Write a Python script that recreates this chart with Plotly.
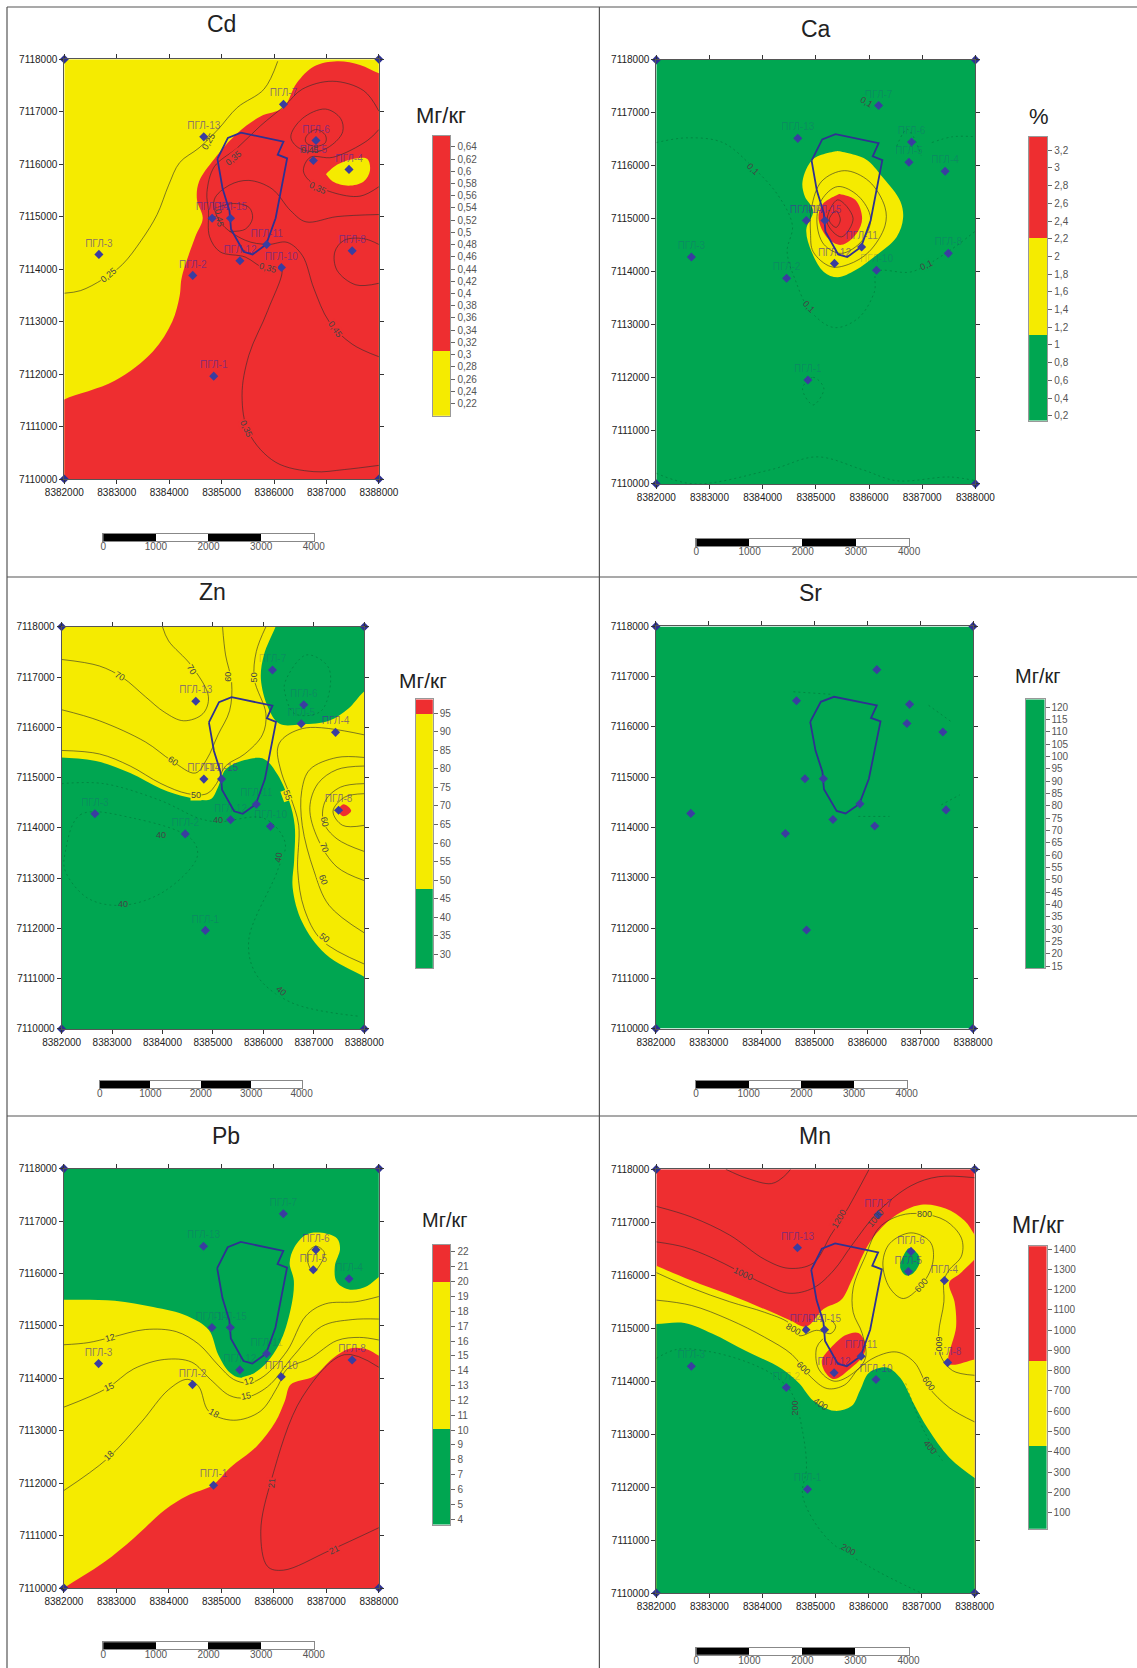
import plotly.graph_objects as go

# ---- wells and licence boundary (km from 8382000 / 7110000) ----
well_names = ["ПГЛ-7","ПГЛ-13","ПГЛ-6","ПГЛ-5","ПГЛ-4","ПГЛ-14","ПГЛ-15","ПГЛ-3","ПГЛ-11","ПГЛ-12","ПГЛ-10","ПГЛ-8","ПГЛ-2","ПГЛ-1"]
well_x = [4.18,2.66,4.80,4.75,5.43,2.82,3.17,0.66,3.86,3.35,4.14,5.49,2.45,2.85]
well_y = [7.14,6.52,6.45,6.07,5.90,4.97,4.97,4.28,4.47,4.16,4.03,4.35,3.88,1.96]
boundary = [(2.92,6.10),(3.12,6.50),(3.37,6.60),(4.18,6.43),(4.07,6.18),(4.25,6.11),(4.03,4.97),(3.85,4.47),(3.59,4.28),(3.42,4.33),(3.18,4.76),(3.15,5.11),(3.02,5.53),(2.92,6.10)]
axis_x_ticks = [8382000,8383000,8384000,8385000,8386000,8387000,8388000]
axis_y_ticks = [7110000,7111000,7112000,7113000,7114000,7115000,7116000,7117000,7118000]
scale_ticks = [0,1000,2000,3000,4000]

RED, YEL, GRN = "#ee2e30", "#f5eb00", "#00a651"

# ---- Cd ----
cd_red = [(-1,1.0),(-0.3,1.35),(0.0,1.515),(0.96,1.87),(1.69,2.43),(2.06,3.0),(2.20,3.49),(2.24,3.84),(2.50,4.62),(2.64,4.97),(2.53,5.32),(2.57,5.67),(2.86,6.10),(3.30,6.59),(3.74,6.91),(4.18,7.08),(4.43,7.54),(4.76,7.86),(5.20,7.96),(5.64,7.89),(6.0,7.73),(6.44,7.58),(7,7),(7,-1),(-1,-1)]
cd_yel = [(4.99,5.81),(5.20,5.99),(5.56,6.11),(5.78,6.10),(5.83,5.88),(5.71,5.67),(5.42,5.59),(5.12,5.67),(4.99,5.81)]
cd_iso = [
 [(0,3.54),(.31,3.59),(.74,3.81),(1.11,4.09),(1.47,4.55),(1.77,5.04),(1.99,5.60),(2.20,6.03),(2.57,6.31),(2.93,6.66),(3.30,7.08),(3.81,7.43),(4.07,7.96)],
 [(6,7.01),(5.71,7.40),(5.12,7.58),(4.54,7.43),(4.21,7.12),(3.74,6.73),(3.30,6.31),(2.86,5.95),(2.72,5.46),(2.75,5.11),(2.77,4.62),(2.97,4.33),(3.45,4.23),(3.81,4.02),(4.14,4.02),(3.88,3.21),(3.52,2.36),(3.39,1.59),(3.52,.88),(4.03,.32),(4.76,.14),(5.34,.18),(6,.26)],
 [(6,2.33),(5.49,2.57),(5.05,3.0),(4.76,3.63),(4.54,4.26),(4.25,4.51),(3.88,4.47),(3.45,4.55),(2.97,4.90),(2.86,5.32),(3.15,5.60),(3.52,5.69),(3.96,5.53),(4.32,5.11),(4.61,4.90),(5.20,5.0),(6,5.04)],
 [(2.93,5.18),(3.23,5.25),(3.52,5.18),(3.59,4.97),(3.45,4.76),(3.15,4.72)],
 [(4.32,6.52),(4.54,6.87),(4.98,7.05),(5.27,6.87),(5.31,6.62),(5.12,6.38),(4.83,6.24),(4.47,6.31),(4.32,6.52)],
 [(4.61,6.52),(4.80,6.66),(4.98,6.55),(4.98,6.41),(4.80,6.34),(4.61,6.41),(4.61,6.52)],
 [(6,6.66),(5.78,6.45),(5.12,6.13),(4.69,6.13),(4.56,5.88),(4.69,5.67),(5.12,5.46),(5.64,5.39),(6,5.57)],
 [(6,4.47),(5.71,4.58),(5.34,4.55),(5.16,4.33),(5.20,3.98),(5.56,3.70),(6,3.73)],
]
cd_labels = [("0,25",.85,3.88,-40),("0,25",2.75,6.45,-60),("0,35",3.23,6.11,-40),("0,35",4.83,5.55,25),("0,45",2.95,4.97,80),("0,35",3.88,4.03,15),("0,35",3.47,.95,65),("0,45",5.16,2.85,55),("0,45",4.69,6.27,0)]
cd_label_bg = {"0,25":YEL,"0,35":RED,"0,45":RED}
cd_cb_bounds = [.2,.306,.658]
cd_cb_colors = [YEL,RED]
cd_cb_ticks = [.22,.24,.26,.28,.3,.32,.34,.36,.38,.4,.42,.44,.46,.48,.5,.52,.54,.56,.58,.6,.62,.64]

# ---- Ca ----
ca_yel = [(3.41,6.28),(3.93,6.13),(4.26,5.78),(4.59,5.33),(4.64,5.01),(4.52,4.66),(4.13,4.31),(3.74,4.03),(3.41,3.90),(3.15,4.0),(2.92,4.38),(2.82,4.80),(2.95,5.15),(2.79,5.43),(2.75,5.71),(2.95,6.13),(3.41,6.28)]
ca_red = [(3.44,5.47),(3.74,5.36),(3.87,5.01),(3.77,4.73),(3.48,4.51),(3.22,4.64),(3.05,5.01),(3.13,5.28),(3.44,5.47)]
ca_iso = [
 [(3.54,5.91),(4.0,5.71),(4.30,5.22),(4.30,4.87),(4.0,4.38),(3.61,4.14),(3.28,4.10),(2.95,4.38),(2.90,4.73),(2.92,5.22),(3.11,5.71),(3.54,5.91)],
 [(3.41,5.61),(3.80,5.43),(4.03,5.01),(3.87,4.59),(3.48,4.35),(3.15,4.52),(3.02,4.94),(3.11,5.36),(3.41,5.61)],
 [(3.41,5.36),(3.70,5.01),(3.48,4.66),(3.21,4.94),(3.41,5.36)],
 [(3.38,5.15),(3.46,4.98),(3.38,4.84),(3.25,4.98),(3.38,5.15)],
]
ca_faint = [
 [(0,6.44),(.59,6.53),(1.25,6.44),(1.80,5.99),(2.30,5.43),(2.56,4.87),(2.46,4.38),(2.62,3.83),(2.89,3.27),(3.34,2.95),(3.80,3.13),(4.10,3.62),(4.15,4.0),(4.79,4.0),(5.38,4.31),(6,4.77)],
 [(2.75,1.80),(2.95,2.01),(3.15,1.80),(2.95,1.49),(2.75,1.80)],
 [(0,.2),(.72,0),(2.16,.27),(3.02,.51),(3.87,.27),(4.52,.06),(5.51,.13),(6,.06)],
 [(4.52,6.37),(4.72,6.69),(4.98,6.2)],
 [(5.18,6.44),(5.57,6.55),(6,6.55)],
]
ca_labels = [("0,1",1.82,5.95,45),("0,1",2.87,3.33,45),("0,1",5.08,4.13,-25),("0,1",3.95,7.2,30)]
ca_label_bg = {"0,1":GRN}
ca_cb_bounds = [.146,1.114,2.21,3.35]
ca_cb_colors = [GRN,YEL,RED]
ca_cb_ticks = [.2,.4,.6,.8,1,1.2,1.4,1.6,1.8,2,2.2,2.4,2.6,2.8,3,3.2]

# ---- Zn ----
zn_grn1 = [(-1,5.5),(-.3,5.42),(0,5.40),(.68,5.33),(1.36,5.09),(1.97,4.78),(2.50,4.61),(2.95,4.57),(3.10,4.81),(3.25,5.16),(3.63,5.35),(4.01,5.37),(4.28,5.06),(4.51,4.54),(4.62,4.05),(4.61,3.36),(4.58,2.81),(4.77,2.12),(5.23,1.49),(6,1.04),(6.5,.8),(7,-1),(-1,-1)]
zn_grn2 = [(4.36,8.34),(4.24,8),(4.01,7.44),(3.95,6.96),(4.09,6.40),(4.32,6.07),(4.77,6.06),(5.30,6.13),(5.68,6.37),(6,6.72),(7,7.5),(7,9),(4.7,9)]
zn_red = [(5.46,4.34),(5.59,4.47),(5.74,4.34),(5.59,4.23),(5.46,4.34)]
zn_iso = [
 [(0,7.35),(.75,7.22),(1.21,6.99),(1.66,6.61),(2.04,6.30),(2.42,6.13),(2.80,6.27),(2.91,6.61),(2.57,7.23),(2.12,7.72),(2.0,8)],
 [(0,6.35),(.75,6.13),(1.66,5.71),(2.19,5.33),(2.65,5.09),(2.88,5.37),(3.10,5.85),(3.33,6.33),(3.37,6.89),(3.25,7.44),(3.19,8)],
 [(0,5.54),(.75,5.47),(1.36,5.23),(1.97,4.88),(2.50,4.68),(2.88,4.68),(3.07,4.88),(3.25,5.23),(3.63,5.47),(3.98,5.85),(4.05,6.27),(3.82,6.96),(3.86,7.51),(4.05,8)],
 [(6,5.85),(4.85,5.99),(4.39,5.78),(4.28,5.57),(4.36,5.09),(4.54,4.61),(4.70,4.05),(4.68,3.15),(4.81,2.39),(5.15,1.77),(6,1.29)],
 [(6,5.40),(5.46,5.40),(4.92,5.16),(4.76,4.74),(4.77,4.05),(5.0,3.15),(5.30,2.46),(6,1.91)],
 [(6,5.23),(5.46,5.16),(5.08,4.88),(4.92,4.40),(5.08,3.78),(5.46,3.22),(6,2.95)],
 [(6,4.88),(5.53,4.81),(5.23,4.54),(5.19,4.12),(5.46,3.78),(6,3.53)],
 [(6,4.68),(5.61,4.61),(5.38,4.33),(5.57,4.05),(6,4.05)],
]
zn_faint = [
 [(0,4.88),(.83,4.88),(1.97,4.54),(2.72,4.19),(3.1,4.12),(4.01,4.19),(4.43,3.71),(4.28,3.15),(3.71,1.77),(3.86,1.08),(4.54,.53),(5.91,.25)],
 [(.07,3.5),(.37,4.26),(1.43,4.19),(2.57,3.78),(2.69,3.43),(2.04,2.74),(1.21,2.46),(.52,2.6),(.07,3.15),(.07,3.5)],
 [(4.43,6.9),(4.85,7.44),(5.30,7.17),(5.15,6.33),(4.62,6.27),(4.43,6.67),(4.43,6.9)],
]
zn_labels = [("70",1.15,7.03,30),("70",2.59,7.15,60),("60",3.29,7.0,-90),("50",3.82,7.0,-90),("60",2.21,5.33,35),("50",2.67,4.65,0),("55",4.48,4.66,70),("60",5.21,4.11,80),("70",5.21,3.60,70),("60",5.19,2.96,70),("50",5.21,1.8,40),("40",3.1,4.15,0),("40",1.97,3.85,0),("40",1.21,2.48,0),("40",4.3,3.4,-80),("40",4.35,.75,40)]
zn_label_bg = {"70":YEL,"60":YEL,"55":YEL,"50":YEL,"40":GRN}
zn_cb_bounds = [26.2,47.4,94.8,98.8]
zn_cb_colors = [GRN,YEL,RED]
zn_cb_ticks = [30,35,40,45,50,55,60,65,70,75,80,85,90,95]

# ---- Sr ----
sr_faint = [[(3.83,4.22),(4.42,4.22)],[(5.16,6.43),(5.62,6.08)],[(3.3,6.65),(2.6,6.7)],[(5.4,4.45),(5.75,4.65)]]
sr_cb_bounds = [14.15,123.1]
sr_cb_colors = [GRN]
sr_cb_ticks = [15,20,25,30,35,40,45,50,55,60,65,70,75,80,85,90,95,100,105,110,115,120]

# ---- Pb ----
pb_yel = [(-1,5.5),(-.4,5.5),(0,5.50),(.97,5.48),(1.70,5.36),(2.35,5.19),(2.76,4.92),(2.94,4.45),(3.16,4.11),(3.37,4.01),(3.74,4.18),(4.10,4.65),(4.32,5.32),(4.38,5.86),(4.30,6.20),(4.39,6.50),(4.61,6.74),(4.87,6.78),(5.20,6.67),(5.26,6.47),(5.16,6.13),(5.20,5.83),(5.45,5.69),(5.78,5.76),(6,5.93),(6.44,6.2),(7,5),(7,-1),(-1,-1)]
pb_red = [(-.6,-.4),(0,0),(.75,.48),(1.33,.95),(1.92,1.49),(2.35,1.76),(2.83,1.96),(3.16,2.29),(3.67,2.70),(4.03,3.17),(4.21,3.57),(4.32,3.88),(4.76,4.04),(5.12,4.38),(5.45,4.57),(5.78,4.55),(6,4.43),(6.36,4.25),(7,3),(7,-1),(0,-1)]
pb_iso = [
 [(0,4.64),(.46,4.68),(.90,4.78),(1.55,4.93),(2.14,4.89),(2.57,4.65),(2.94,4.25),(3.23,3.98),(3.52,3.91),(3.81,4.04),(4.25,4.52),(4.61,5.19),(4.98,5.42),(5.56,5.46),(6,5.56)],
 [(0,3.45),(.82,3.81),(1.33,4.18),(1.92,4.36),(2.43,4.31),(2.79,3.98),(3.16,3.67),(3.45,3.63),(3.88,3.84),(4.39,4.45),(4.91,4.99),(5.49,5.12),(6,5.13)],
 [(0,1.86),(.82,2.46),(1.48,3.17),(1.99,3.78),(2.35,3.98),(2.57,3.84),(2.76,3.37),(3.23,3.20),(3.74,3.37),(4.07,3.84),(4.25,4.18),(4.69,4.38),(5.20,4.72),(5.63,4.78),(6,4.73)],
 [(6,1.15),(5.05,.71),(4.18,.34),(3.88,.41),(3.75,1.08),(3.96,2.09),(4.54,3.64),(5.34,4.45),(6,4.21)],
 [(4.65,6.40),(4.80,6.52),(4.96,6.40),(4.90,6.20),(4.75,6.03),(4.65,6.20),(4.65,6.40)],
]
pb_labels = [("12",.87,4.77,-15),("15",.86,3.83,-25),("18",.85,2.52,-45),("18",2.85,3.34,30),("12",3.53,3.94,-15),("15",3.47,3.67,-10),("21",3.96,2.0,-85),("21",5.14,.73,-25)]
pb_label_bg = {"12":YEL,"15":YEL,"18":YEL,"21":RED}
pb_cb_bounds = [3.64,10.08,19.99,22.48]
pb_cb_colors = [GRN,YEL,RED]
pb_cb_ticks = [4,5,6,7,8,9,10,11,12,13,14,15,16,17,18,19,20,21,22]

# ---- Mn ----
mn_yel = [(-1,6.4),(-.4,6.35),(0,6.18),(.66,5.90),(1.38,5.63),(2.04,5.36),(2.50,5.16),(2.83,5.03),(3.15,5.36),(3.48,5.53),(3.68,5.90),(3.88,6.36),(4.07,6.69),(4.47,7.10),(4.99,7.33),(5.45,7.26),(5.81,7.03),(6,6.76),(6.14,6.50),(6,6.3),(5.72,6.03),(5.52,5.86),(5.62,5.5),(5.65,5.03),(5.52,4.33),(6,4.41),(6.3,4.46),(7,4.4),(7,-1),(-1,-1)]
mn_red = [(3.29,4.63),(3.55,4.86),(3.81,4.91),(3.94,4.70),(3.91,4.5),(3.68,4.26),(3.35,4.04),(3.19,4.16),(3.12,4.40),(3.29,4.63)]
mn_grn = [(-1,5.05),(-.4,5.07),(0,5.08),(.53,5.10),(1.05,4.90),(1.71,4.56),(2.37,4.23),(2.69,3.96),(2.96,3.63),(3.35,3.44),(3.68,3.53),(3.84,3.83),(4.01,4.16),(4.34,4.26),(4.60,4.06),(4.86,3.56),(5.12,3.10),(5.52,2.56),(6,2.17),(6.37,1.9),(7,1),(7,-1),(-1,-1)]
mn_islet = [(4.60,6.23),(4.76,6.51),(4.93,6.40),(4.96,6.23),(4.83,6.03),(4.70,6.0),(4.60,6.13),(4.60,6.23)]
mn_iso = [
 [(0,6.63),(.53,6.53),(1.05,6.33),(1.51,6.10),(2.04,5.83),(2.50,5.66),(2.96,5.76),(3.35,6.10),(3.68,6.56),(4.2,7.22),(4.80,7.69),(5.32,7.86),(6,7.84)],
 [(0,7.30),(.66,7.10),(1.38,6.76),(2.04,6.30),(2.50,6.13),(2.96,6.23),(3.29,6.76),(3.55,7.16),(4.01,8)],
 [(1.31,8),(1.71,7.83),(2.17,7.73),(2.40,7.86),(2.53,8)],
 [(0,6.05),(.66,5.76),(1.38,5.50),(2.04,5.30),(2.50,5.10),(2.69,4.86),(3.02,4.96),(3.29,4.90),(3.38,5.03),(3.29,5.16)],
 [(0,5.53),(.66,5.43),(1.38,5.16),(2.04,4.83),(2.56,4.50),(2.89,4.10),(3.22,3.86),(3.55,3.93),(3.81,4.23),(4.14,4.46),(4.53,4.55),(4.86,4.36),(5.12,3.9),(5.52,3.5),(6,3.23)],
 [(3.14,4.8),(3.02,4.63),(3.06,4.23),(3.35,4.0),(3.68,4.13),(3.94,4.43),(3.88,4.90),(3.71,5.30),(3.71,5.76),(3.94,6.36),(4.2,6.9),(4.60,7.13),(4.99,7.16),(5.45,7.03),(5.75,6.70),(5.75,6.36),(5.52,6.10),(5.42,5.90),(5.42,5.5),(5.32,4.90),(5.35,4.50),(5.58,4.2),(6,4.11)],
 [(4.27,6.23),(4.40,6.6),(4.80,6.80),(5.16,6.63),(5.22,6.30),(5.06,5.90),(4.66,5.56),(4.40,5.76),(4.27,6.23)],
]
mn_faint = [
 [(0,4.43),(.39,4.6),(.99,4.56),(1.71,4.36),(2.23,4.10),(2.56,3.76),(2.76,3.03),(2.83,2.36),(2.76,1.83),(3.22,1.03),(4.01,.5),(4.99,0)],
 [(4.7,3.96),(5.06,3.03),(5.39,2.5)],
]
mn_labels = [("1200",3.44,7.06,-60),("1000",4.13,7.09,-50),("1000",1.64,6.02,25),("800",5.05,7.16,0),("600",5.0,5.81,-50),("600",5.32,4.70,90),("800",2.58,4.99,30),("600",2.77,4.25,45),("600",5.12,3.96,55),("400",3.09,3.56,35),("200",2.61,3.5,-90),("200",3.63,.82,30),("400",5.16,2.76,50)]
mn_label_bg = {"1200":RED,"1000":RED,"800":YEL,"600":YEL,"400":GRN,"200":GRN}
mn_cb_bounds = [20,429,846,1414]
mn_cb_colors = [GRN,YEL,RED]
mn_cb_ticks = [100,200,300,400,500,600,700,800,900,1000,1100,1200,1300,1400]

# labels that sit over a well or a colour edge, so they get no backing colour
labels_no_backing = [(4.69,6.27),(2.95,4.97),(4.13,7.09),(2.75,6.45),(3.09,3.56),(5.16,2.76)]

# ---- assembly ----
W, H = 1137, 1668
X0, Y0 = 8382000, 7110000
BLUE = "#2e3192"
FONT = "Liberation Sans"

panels = [
 dict(title="Cd", unit="Мг/кг", bg=YEL, regions=[(RED,cd_red),(YEL,cd_yel)], iso=cd_iso, faint=[], labels=cd_labels, lbg=cd_label_bg,
      cb=(cd_cb_bounds,cd_cb_colors,cd_cb_ticks), box=(64.3,378.9,59.2,479), cbbox=(432.5,450.4,135.8,415.8),
      sc=(103.3,313.8,533.5,540.9), tpos=(221,24,23), upos=(441,115.4,22), faintwells=[]),
 dict(title="Ca", unit="%", bg=GRN, regions=[(YEL,ca_yel),(RED,ca_red)], iso=ca_iso, faint=ca_faint, labels=ca_labels, lbg=ca_label_bg,
      cb=(ca_cb_bounds,ca_cb_colors,ca_cb_ticks), box=(656.3,975.4,59.9,483.9), cbbox=(1029.1,1047.3,136.9,420.6),
      sc=(696.4,909.1,539,546.4), tpos=(816,28.5,23), upos=(1039,116,22),
      faintwells=["ПГЛ-7","ПГЛ-13","ПГЛ-6","ПГЛ-5","ПГЛ-4","ПГЛ-3","ПГЛ-10","ПГЛ-8","ПГЛ-2","ПГЛ-1"]),
 dict(title="Zn", unit="Мг/кг", bg=YEL, regions=[(GRN,zn_grn1),(GRN,zn_grn2),(RED,zn_red)], iso=zn_iso, faint=zn_faint, labels=zn_labels, lbg=zn_label_bg,
      cb=(zn_cb_bounds,zn_cb_colors,zn_cb_ticks), box=(61.6,364.3,626.8,1028.9), cbbox=(415.6,432.8,699.4,968.1),
      sc=(99.9,301.6,1081,1088), tpos=(212,591.7,23), upos=(423,680,21),
      faintwells=["ПГЛ-7","ПГЛ-6","ПГЛ-5","ПГЛ-3","ПГЛ-2","ПГЛ-1","ПГЛ-12","ПГЛ-11","ПГЛ-10"]),
 dict(title="Sr", unit="Мг/кг", bg=GRN, regions=[], iso=[], faint=sr_faint, labels=[], lbg={},
      cb=(sr_cb_bounds,sr_cb_colors,sr_cb_ticks), box=(655.9,973,626.4,1028.6), cbbox=(1026,1044.5,699.4,968.1),
      sc=(696,906.7,1081,1088), tpos=(810.4,593,23), upos=(1037.5,675.8,20), faintwells=well_names),
 dict(title="Pb", unit="Мг/кг", bg=GRN, regions=[(YEL,pb_yel),(RED,pb_red)], iso=pb_iso, faint=[], labels=pb_labels, lbg=pb_label_bg,
      cb=(pb_cb_bounds,pb_cb_colors,pb_cb_ticks), box=(63.9,378.9,1168.6,1588), cbbox=(432.5,450.4,1244.8,1524.5),
      sc=(103.3,313.8,1642.3,1649.4), tpos=(225.8,1136,23), upos=(445,1219.8,20),
      faintwells=["ПГЛ-7","ПГЛ-13","ПГЛ-14","ПГЛ-15","ПГЛ-11","ПГЛ-12","ПГЛ-4"]),
 dict(title="Mn", unit="Мг/кг", bg=RED, regions=[(YEL,mn_yel),(RED,mn_red),(GRN,mn_grn),(GRN,mn_islet)], iso=mn_iso, faint=mn_faint, labels=mn_labels, lbg=mn_label_bg,
      cb=(mn_cb_bounds,mn_cb_colors,mn_cb_ticks), box=(656.3,974.7,1169.3,1593), cbbox=(1028.8,1046.6,1246.2,1528.8),
      sc=(696.4,908.5,1647.6,1654.7), tpos=(815,1136,23), upos=(1037.5,1225,23),
      faintwells=["ПГЛ-3","ПГЛ-2","ПГЛ-1"]),
]

fig = go.Figure()
layout = dict(width=W, height=H, autosize=False, margin=dict(l=0,r=0,t=0,b=0,autoexpand=False), paper_bgcolor="white",
              plot_bgcolor="white", showlegend=False, font=dict(family=FONT), bargap=0, barmode="overlay",
              annotations=[], shapes=[])

def xd(x1,x2): return [x1/W, x2/W]
def yd(y1,y2): return [1-y2/H, 1-y1/H]
def fmt(v):
    return (f"{v:g}").replace(".",",")
def kx(pts): return [X0+1000*p[0] for p in pts]
def ky(pts): return [Y0+1000*p[1] for p in pts]
def ann(text,x,y,size,color="#222"):
    layout["annotations"].append(dict(text=text,x=x/W,y=1-y/H,xref="paper",yref="paper",showarrow=False,
        xanchor="center",yanchor="middle",font=dict(size=size,color=color,family=FONT)))

n = 2
for p in panels:
    xa, ya = f"x{n}", f"y{n}"
    x1,x2,y1,y2 = p["box"]
    layout[f"xaxis{n}"] = dict(domain=xd(x1,x2), anchor=ya, range=[X0,X0+6000], tickvals=axis_x_ticks, tickformat="d",
        ticks="outside", ticklen=4, tickcolor="#333", showgrid=False, zeroline=False, showline=True, linecolor="#555",
        linewidth=1, mirror="ticks", tickfont=dict(size=10,color="#222",family=FONT))
    layout[f"yaxis{n}"] = dict(domain=yd(y1,y2), anchor=xa, range=[Y0,Y0+8000], tickvals=axis_y_ticks, tickformat="d",
        ticks="outside", ticklen=4, tickcolor="#333", showgrid=False, zeroline=False, showline=True, linecolor="#555",
        linewidth=1, mirror="ticks", tickfont=dict(size=10,color="#222",family=FONT))
    # background
    fig.add_trace(go.Scatter(x=[X0,X0+6000,X0+6000,X0,X0], y=[Y0,Y0,Y0+8000,Y0+8000,Y0], mode="lines", fill="toself",
        fillcolor=p["bg"], line=dict(width=0), hoverinfo="skip", xaxis=xa, yaxis=ya))
    for color, pts in p["regions"]:
        fig.add_trace(go.Scatter(x=kx(pts)+[kx(pts)[0]], y=ky(pts)+[ky(pts)[0]], mode="lines", fill="toself", fillcolor=color,
            line=dict(width=0,shape="spline",smoothing=1), hoverinfo="skip", xaxis=xa, yaxis=ya))
    for pts in p["iso"]:
        fig.add_trace(go.Scatter(x=kx(pts), y=ky(pts), mode="lines", hoverinfo="skip", xaxis=xa, yaxis=ya,
            line=dict(width=0.8,color="rgba(45,45,45,0.75)",shape="spline",smoothing=1)))
    for pts in p["faint"]:
        fig.add_trace(go.Scatter(x=kx(pts), y=ky(pts), mode="lines", hoverinfo="skip", xaxis=xa, yaxis=ya,
            line=dict(width=0.7,color="rgba(0,70,35,0.45)",dash="2px,3px",shape="spline",smoothing=1)))
    fig.add_trace(go.Scatter(x=kx(boundary), y=ky(boundary), mode="lines", hoverinfo="skip", xaxis=xa, yaxis=ya,
        line=dict(width=1.8,color=BLUE)))
    cols = [("rgba(46,49,146,0)" if p["title"]=="Sr" else
             ("rgba(46,49,146,0.22)" if nm in p["faintwells"] else "rgba(70,40,160,0.6)")) for nm in well_names]
    fig.add_trace(go.Scatter(x=[X0+1000*v for v in well_x], y=[Y0+1000*v for v in well_y], mode="markers+text", text=well_names,
        textposition="top center", textfont=dict(size=10,color=cols,family=FONT), hoverinfo="skip", cliponaxis=False,
        marker=dict(symbol="diamond",size=7,color="#3a3da0"), xaxis=xa, yaxis=ya))
    fig.add_trace(go.Scatter(x=[X0,X0+6000,X0,X0+6000], y=[Y0,Y0,Y0+8000,Y0+8000], mode="markers", hoverinfo="skip", cliponaxis=False,
        marker=dict(symbol="diamond",size=7,color="#2e3192"), xaxis=xa, yaxis=ya))
    for t,lx,ly,ang in p["labels"]:
        a = dict(text=t,x=X0+1000*lx,y=Y0+1000*ly,xref=xa,yref=ya,showarrow=False,textangle=ang,borderpad=0,
            font=dict(size=9,color="#444",family=FONT))
        if (lx,ly) not in labels_no_backing:
            a["bgcolor"] = p["lbg"][t]
        layout["annotations"].append(a)
    ann(p["title"],p["tpos"][0],p["tpos"][1],p["tpos"][2])
    ann(p["unit"],p["upos"][0],p["upos"][1],p["upos"][2])
    n += 1

    # colour bar
    bounds, colors, ticks = p["cb"]
    xa, ya = f"x{n}", f"y{n}"
    c1,c2,c3,c4 = p["cbbox"]
    layout[f"xaxis{n}"] = dict(domain=xd(c1,c2), anchor=ya, range=[-.5,.5], showticklabels=False, ticks="", showgrid=False,
        zeroline=False, showline=True, linecolor="#999", linewidth=1, mirror=True)
    layout[f"yaxis{n}"] = dict(domain=yd(c3,c4), anchor=xa, side="right", range=[bounds[0],bounds[-1]], tickvals=ticks,
        ticktext=[fmt(v) for v in ticks], ticks="outside", ticklen=4, tickcolor="#666", showgrid=False, zeroline=False,
        showline=True, linecolor="#999", linewidth=1, mirror=True, tickfont=dict(size=10,color="#555",family=FONT))
    for i,c in enumerate(colors):
        fig.add_trace(go.Bar(x=[0], y=[bounds[i+1]-bounds[i]], base=[bounds[i]], width=[1], marker=dict(color=c,line=dict(width=0)),
            hoverinfo="skip", xaxis=xa, yaxis=ya))
    n += 1

    # scale bar
    xa, ya = f"x{n}", f"y{n}"
    s1,s2,s3,s4 = p["sc"]
    layout[f"xaxis{n}"] = dict(domain=xd(s1,s2), anchor=ya, range=[0,4000], tickvals=scale_ticks, ticks="", showgrid=False,
        ticklabelstandoff=-4, zeroline=False, showline=True, linecolor="#888", linewidth=1, mirror=True,
        tickfont=dict(size=10,color="#555",family=FONT))
    layout[f"yaxis{n}"] = dict(domain=yd(s3,s4), anchor=xa, range=[0,1], showticklabels=False, ticks="", showgrid=False,
        zeroline=False, showline=True, linecolor="#888", linewidth=1, mirror=True)
    for i in range(4):
        fig.add_trace(go.Bar(x=[1000], y=[.5], base=[scale_ticks[i]], width=[1], orientation="h",
            marker=dict(color="#000" if i%2==0 else "#fff",line=dict(width=0)), hoverinfo="skip", xaxis=xa, yaxis=ya))
    n += 1

# frame rules
for a,b,c,d in [(7,7,7,1668),(599.4,7,599.4,1668),(7,7,1137,7),(7,577,1137,577),(7,1116,1137,1116)]:
    layout["shapes"].append(dict(type="line",xref="paper",yref="paper",x0=a/W,x1=c/W,y0=1-b/H,y1=1-d/H,
        line=dict(color="#555",width=1.2)))

for k in list(layout):
    if k.startswith("xaxis") or k.startswith("yaxis"):
        layout[k]["automargin"] = False

fig.update_layout(**layout)
fig.write_html("out.html", config=dict(displayModeBar=False),
               post_script="document.body.style.margin='0';document.body.style.overflow='hidden';")
